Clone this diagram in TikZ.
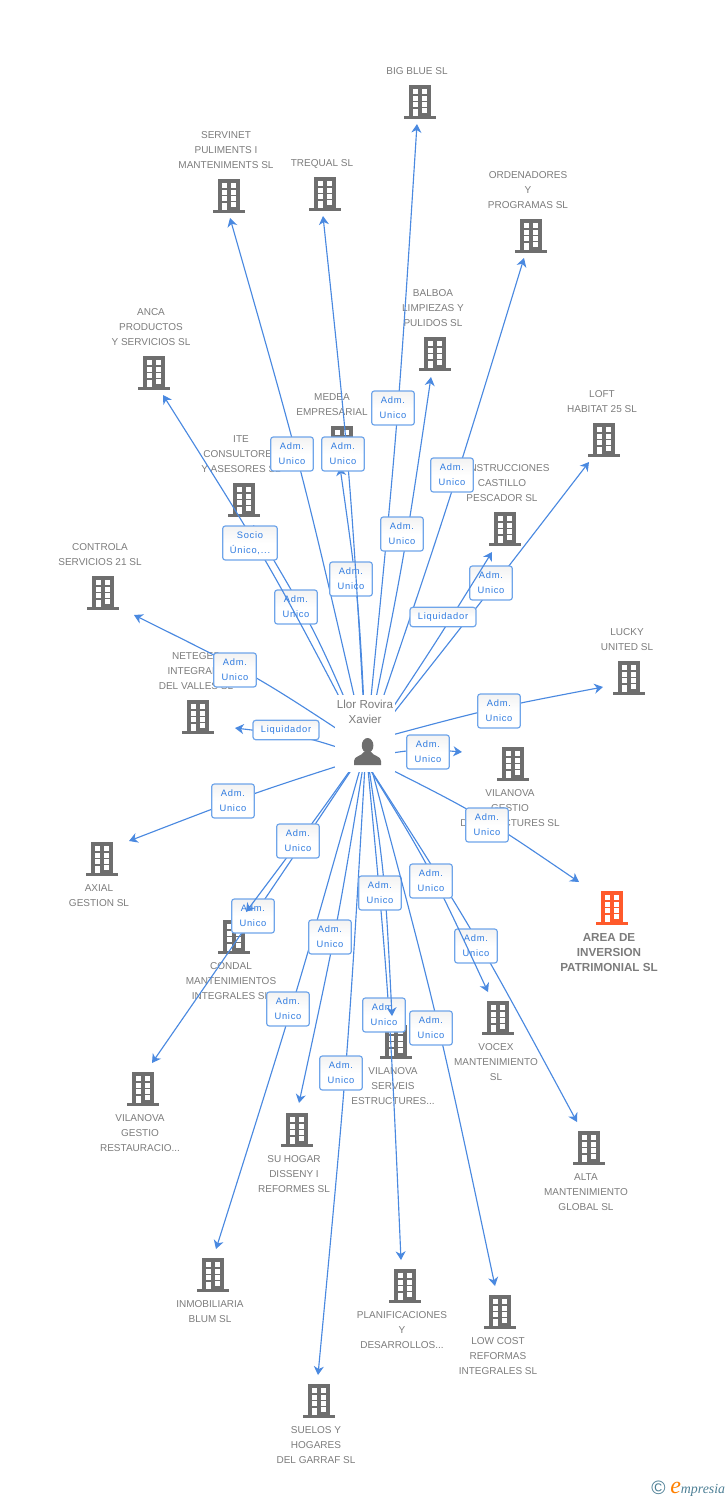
\documentclass[tikz,border=0pt]{standalone}
\usepackage{fontspec}
\setmainfont{Liberation Sans}
\newfontfamily\rolfont[LetterSpace=8]{Liberation Sans}
\newfontfamily\logofont{Liberation Serif}
\usetikzlibrary{arrows.meta,calc}
\definecolor{bldgray}{HTML}{6E6E6E}
\definecolor{txtgray}{HTML}{7C7C7C}
\definecolor{bldorange}{HTML}{FF5A2B}
\definecolor{linkblue}{HTML}{4A89E0}
\definecolor{boxblue}{HTML}{6FA5EA}
\definecolor{rolblue}{HTML}{2F7BE0}
\definecolor{logoteal}{HTML}{4D7F95}
\tikzset{
  comp/.style={font=\fontsize{7.5}{11.25}\selectfont, text=txtgray, align=center, inner sep=0pt},
  link/.style={linkblue, line width=0.85pt, -{Stealth[length=6.5pt,width=7.5pt,inset=2pt]},
    to path={.. controls ($(\tikztostart)!.5!(\tikztotarget)+(6,-6)$) .. (\tikztotarget)}},
  rol/.style={draw=boxblue, line width=0.9pt, rounded corners=2pt, top color=black!5, bottom color=white,
    middle color=white, text=rolblue, font=\rolfont\fontsize{7}{11.25}\selectfont, align=center,
    inner sep=0pt, minimum width=32pt, minimum height=25.5pt},
  bldg/.pic={
    \fill[#1] (-11,-34) rectangle (11,-3);
    \fill[#1] (-16,-3) rectangle (16,0);
    \foreach \wy in {-30,-23.3,-16.7} {
      \fill[white] (-7.2,\wy) rectangle ++(4.7,5);
      \fill[white] (2.4,\wy) rectangle ++(4.7,5);
    }
    \fill[white] (-7.2,-10) rectangle (-2.5,-3);
    \fill[white] (2.4,-10.7) rectangle (7.1,-5.7);
  }
}
\begin{document}
\begin{tikzpicture}[x=0.75pt, y=-0.75pt]
	\useasboundingbox (0,0) rectangle (728,1500);

	% Buildings
	\pic at (420,119) {bldg=bldgray};
	\pic at (229,213) {bldg=bldgray};
	\pic at (325,211) {bldg=bldgray};
	\pic at (531,253) {bldg=bldgray};
	\pic at (435,371) {bldg=bldgray};
	\pic at (154,390) {bldg=bldgray};
	\pic at (342,460) {bldg=bldgray};
	\pic at (244,517) {bldg=bldgray};
	\pic at (505,546) {bldg=bldgray};
	\pic at (604,457) {bldg=bldgray};
	\pic at (103,610) {bldg=bldgray};
	\pic at (198,734) {bldg=bldgray};
	\pic at (629,695) {bldg=bldgray};
	\pic at (513,781) {bldg=bldgray};
	\pic at (612,925) {bldg=bldorange};
	\pic at (102,876) {bldg=bldgray};
	\pic at (234,954) {bldg=bldgray};
	\pic at (143,1106) {bldg=bldgray};
	\pic at (213,1292) {bldg=bldgray};
	\pic at (297,1147) {bldg=bldgray};
	\pic at (396,1059) {bldg=bldgray};
	\pic at (498,1035) {bldg=bldgray};
	\pic at (589,1165) {bldg=bldgray};
	\pic at (405,1303) {bldg=bldgray};
	\pic at (500,1329) {bldg=bldgray};
	\pic at (319,1418) {bldg=bldgray};

	% Company names
	\node[comp] (nbigblue) at (417,71.5) {BIG BLUE SL};
	\node[comp] (nservinet) at (226,150.5) {SERVINET\\PULIMENTS I\\MANTENIMENTS SL};
	\node[comp] (ntrequal) at (322,163.5) {TREQUAL SL};
	\node[comp] (nordenadores) at (528,190.5) {ORDENADORES\\Y\\PROGRAMAS SL};
	\node[comp] (nbalboa) at (433,308.5) {BALBOA\\LIMPIEZAS Y\\PULIDOS SL};
	\node[comp] (nanca) at (151,327.5) {ANCA\\PRODUCTOS\\Y SERVICIOS SL};
	\node[comp] (nmedea) at (332,405) {MEDEA\\EMPRESARIAL};
	\node[comp] (nite) at (241,454.5) {ITE\\CONSULTORES\\Y ASESORES SL};
	\node[comp] (ncastillo) at (502,483.5) {CONSTRUCCIONES\\CASTILLO\\PESCADOR SL};
	\node[comp] (nloft) at (602,402) {LOFT\\HABITAT 25 SL};
	\node[comp] (ncontrola) at (100,555) {CONTROLA\\SERVICIOS 21 SL};
	\node[comp] (nneteges) at (196,671.5) {NETEGES\\INTEGRALS\\DEL VALLES SL};
	\node[comp] (nlucky) at (627,640) {LUCKY\\UNITED SL};
	\node[comp] (ngestio) at (510,808.5) {VILANOVA\\GESTIO\\D'ESTRUCTURES SL};
	\node[comp, font=\fontsize{8.75}{11.25}\selectfont\bfseries] (narea) at (609,952.5) {AREA DE\\INVERSION\\PATRIMONIAL SL};
	\node[comp] (naxial) at (99,896) {AXIAL\\GESTION SL};
	\node[comp] (ncondal) at (231,981.5) {CONDAL\\MANTENIMIENTOS\\INTEGRALES SL};
	\node[comp] (nrestauracio) at (140,1133.5) {VILANOVA\\GESTIO\\RESTAURACIO...};
	\node[comp] (nblum) at (210,1312) {INMOBILIARIA\\BLUM SL};
	\node[comp] (nhogar) at (294,1174.5) {SU HOGAR\\DISSENY I\\REFORMES SL};
	\node[comp] (nserveis) at (393,1086.5) {VILANOVA\\SERVEIS\\ESTRUCTURES...};
	\node[comp] (nvocex) at (496,1062.5) {VOCEX\\MANTENIMIENTO\\SL};
	\node[comp] (nalta) at (586,1192.5) {ALTA\\MANTENIMIENTO\\GLOBAL  SL};
	\node[comp] (nplanif) at (402,1330.5) {PLANIFICACIONES\\Y\\DESARROLLOS...};
	\node[comp] (nlowcost) at (498,1356.5) {LOW COST\\REFORMAS\\INTEGRALES SL};
	\node[comp] (nsuelos) at (316,1445.5) {SUELOS Y\\HOGARES\\DEL GARRAF SL};

	% Links, each with its role box
	\coordinate (llorc) at (366,748);
	\coordinate (llort) at (366,742);
	\coordinate (llorb) at (366,757);
	\coordinate (llorl) at (358,750);

	\coordinate (tbigblue) at (417,124);
	\draw[link] (llorc) to (tbigblue);
	\node[rol] (rbigblue) at (393,408) {Adm.\\Unico};

	\coordinate (tbalboa) at (431,377);
	\draw[link] (llorc) to (tbalboa);
	\node[rol] (rbalboa) at (402,534) {Adm.\\Unico};

	\coordinate (tordenadores) at (524,258);
	\draw[link] (llorc) to (tordenadores);
	\node[rol] (rordenadores) at (452,475) {Adm.\\Unico};

	\coordinate (tloft) at (589,462);
	\draw[link] (llorc) to (tloft);
	\node[rol] (rloft) at (491,583) {Adm.\\Unico};

	\coordinate (tcastillo) at (492,552);
	\draw[link] (llorc) to (tcastillo);
	\node[rol, minimum width=49.5pt, minimum height=14.5pt] (rcastillo) at (443,617) {Liquidador};

	\coordinate (tservinet) at (230,218);
	\draw[link] (llorc) to (tservinet);
	\node[rol] (rservinet) at (292,454) {Adm.\\Unico};

	\coordinate (tmedea) at (340,467);
	\draw[link] (llorc) to (tmedea);
	\node[rol] (rmedea) at (351,579) {Adm.\\Unico};

	\coordinate (ttrequal) at (323,216);
	\draw[link] (llorc) to (ttrequal);
	\node[rol] (rtrequal) at (343,454) {Adm.\\Unico};

	\coordinate (tite) at (253,525);
	\draw[link] (llorc) to (tite);
	\node[rol] (rite) at (296,607) {Adm.\\Unico};

	\coordinate (tanca) at (163,395);
	\draw[link] (llorc) to (tanca);
	\node[rol, minimum width=41pt] (ranca) at (250,543) {Socio\\Único,...};

	\coordinate (tcontrola) at (134,615);
	\draw[link] (llorc) to (tcontrola);
	\node[rol] (rcontrola) at (235,670) {Adm.\\Unico};

	\coordinate (tneteges) at (235,728);
	\draw[link] (llorb) to (tneteges);
	\node[rol, minimum width=49.5pt, minimum height=14.5pt] (rneteges) at (286,730) {Liquidador};

	\coordinate (tlucky) at (603,687);
	\draw[link] (llort) to (tlucky);
	\node[rol] (rlucky) at (499,711) {Adm.\\Unico};

	\coordinate (tgestio) at (462,752);
	\draw[link] (llorb) to (tgestio);
	\node[rol] (rgestio) at (428,752) {Adm.\\Unico};

	\coordinate (tarea) at (579,882);
	\draw[link] (llorb) to (tarea);
	\node[rol] (rarea) at (487,825) {Adm.\\Unico};

	\coordinate (taxial) at (129,841);
	\draw[link] (llorb) to (taxial);
	\node[rol] (raxial) at (233,801) {Adm.\\Unico};

	\coordinate (trestauracio) at (152,1063);
	\draw[link] (llorc) to (trestauracio);
	\node[rol] (rrestauracio) at (253,916) {Adm.\\Unico};

	\coordinate (tcondal) at (246,912);
	\draw[link] (llorc) to (tcondal);
	\node[rol] (rcondal) at (298,841) {Adm.\\Unico};

	\coordinate (tblum) at (216,1249);
	\draw[link] (llorc) to (tblum);
	\node[rol] (rblum) at (288,1009) {Adm.\\Unico};

	\coordinate (thogar) at (299,1103);
	\draw[link] (llorc) to (thogar);
	\node[rol] (rhogar) at (330,937) {Adm.\\Unico};

	\coordinate (tsuelos) at (318,1375);
	\draw[link] (llorc) to (tsuelos);
	\node[rol] (rsuelos) at (341,1073) {Adm.\\Unico};

	\coordinate (tplanif) at (401,1260);
	\draw[link] (llorc) to (tplanif);
	\node[rol] (rplanif) at (384,1015) {Adm.\\Unico};

	\coordinate (tserveis) at (392,1016);
	\draw[link] (llorc) to (tserveis);
	\node[rol] (rserveis) at (380,893) {Adm.\\Unico};

	\coordinate (tlowcost) at (495,1286);
	\draw[link] (llorc) to (tlowcost);
	\node[rol] (rlowcost) at (431,1028) {Adm.\\Unico};

	\coordinate (talta) at (577,1122);
	\draw[link] (llorl) to (talta);
	\node[rol] (ralta) at (476,946) {Adm.\\Unico};

	\coordinate (tvocex) at (488,992);
	\draw[link] (llorl) to (tvocex);
	\node[rol] (rvocex) at (431,881) {Adm.\\Unico};

	% Person
	\node[fill=white, minimum width=45pt, minimum height=58pt, inner sep=0pt] (llorbg) at (365,733.5) {};
	\node[comp, font=\fontsize{8.7}{11.25}\selectfont] (llor) at (365,712) {Llor Rovira\\Xavier};
	\fill[bldgray] (367.6,745.5) ellipse (5.8 and 7.5);
	\fill[bldgray] (354,765) -- (354,761) .. controls (354,756) and (361,756.5) .. (364,752)
		-- (371,752) .. controls (374,756.5) and (381,756) .. (381,761) -- (381,765) -- cycle;

	% Logo
	\node[font=\fontsize{14.5}{14.5}\selectfont, text=logoteal, inner sep=0pt] (lcopy) at (658.5,1488) {©};
	\node[font=\logofont\itshape\fontsize{10.4}{10.4}\selectfont, text=logoteal, inner sep=0pt, anchor=base west] (lname) at (670,1493)
		{\textcolor{orange}{\fontsize{18}{18}\selectfont e}mpresia};
\end{tikzpicture}
\end{document}
